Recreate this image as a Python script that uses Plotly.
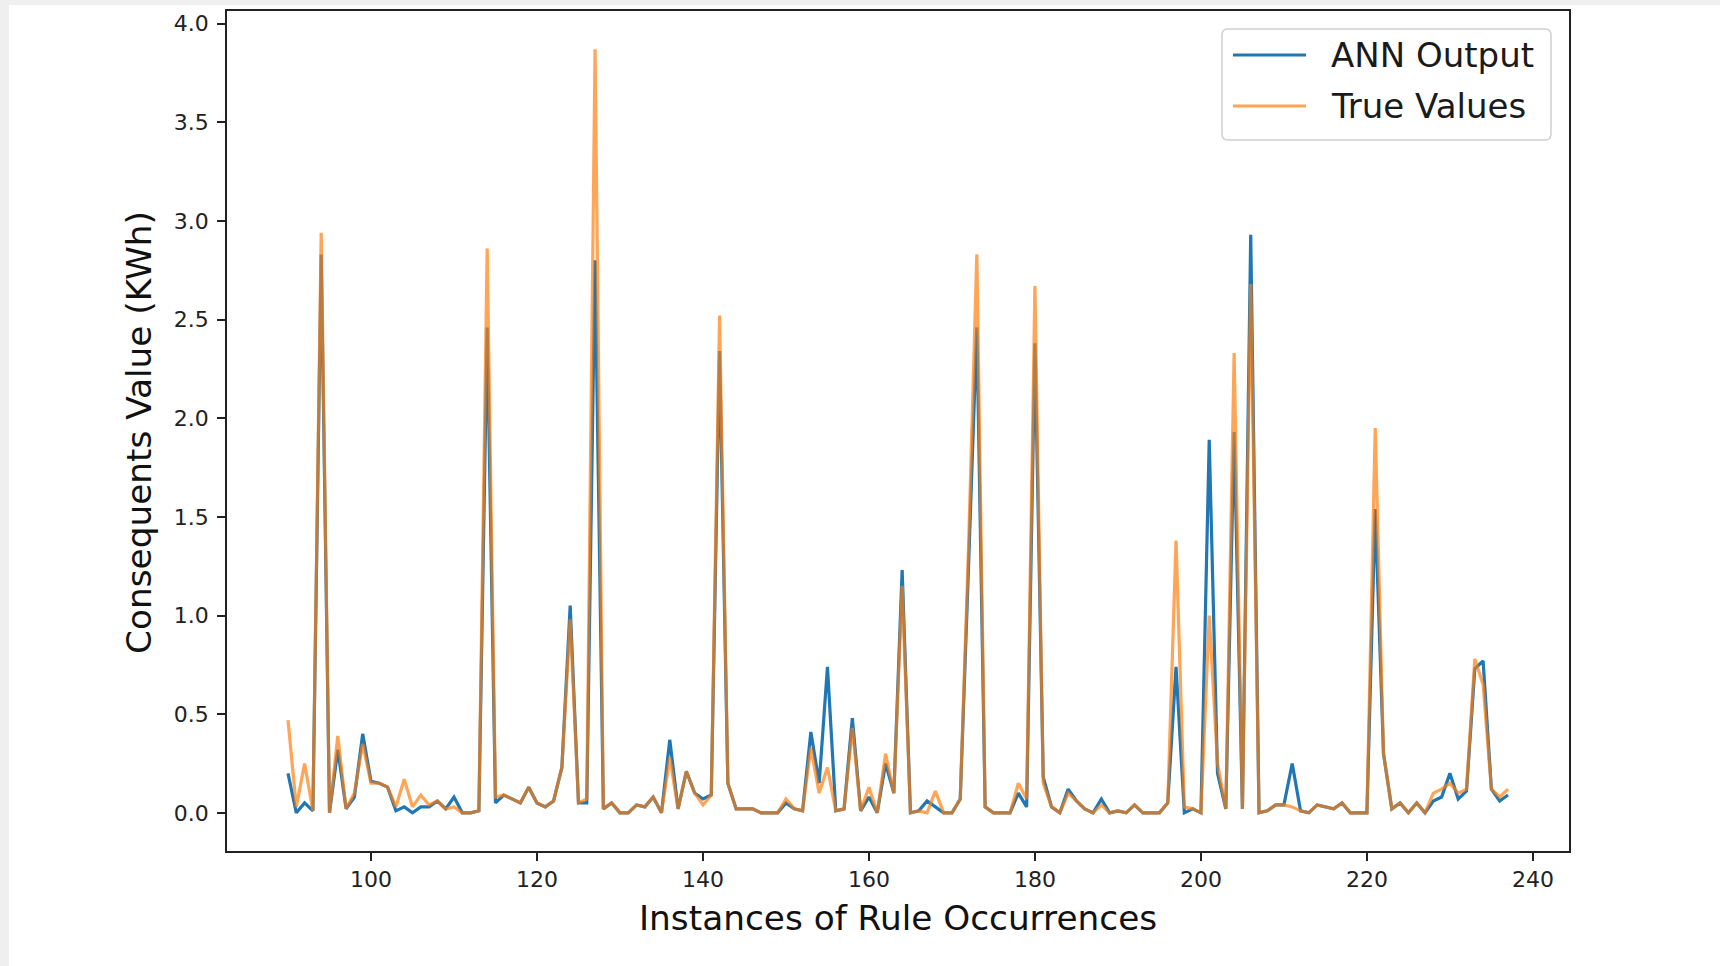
import plotly.graph_objects as go

# ---------------- data ----------------
instances = list(range(90, 238))

ann_output = [
    0.20, 0.00, 0.05, 0.01, 2.83, 0.00, 0.32, 0.02, 0.08, 0.40,   # 90-99
    0.16, 0.15, 0.13, 0.01, 0.03, 0.00, 0.03, 0.03, 0.06, 0.02,   # 100-109
    0.08, 0.00, 0.00, 0.01, 2.46, 0.05, 0.09, 0.07, 0.05, 0.13,   # 110-119
    0.05, 0.03, 0.06, 0.23, 1.05, 0.05, 0.05, 2.80, 0.02, 0.05,   # 120-129
    0.00, 0.00, 0.04, 0.03, 0.08, 0.00, 0.37, 0.02, 0.21, 0.10,   # 130-139
    0.07, 0.09, 2.34, 0.15, 0.02, 0.02, 0.02, 0.00, 0.00, 0.00,   # 140-149
    0.05, 0.02, 0.01, 0.41, 0.15, 0.74, 0.01, 0.02, 0.48, 0.01,   # 150-159
    0.08, 0.00, 0.25, 0.10, 1.23, 0.00, 0.01, 0.06, 0.03, 0.00,   # 160-169
    0.00, 0.07, 1.25, 2.46, 0.03, 0.00, 0.00, 0.00, 0.10, 0.03,   # 170-179
    2.38, 0.18, 0.03, 0.00, 0.12, 0.06, 0.02, 0.00, 0.07, 0.00,   # 180-189
    0.01, 0.00, 0.04, 0.00, 0.00, 0.00, 0.05, 0.74, 0.00, 0.02,   # 190-199
    0.00, 1.89, 0.20, 0.02, 1.93, 0.02, 2.93, 0.00, 0.01, 0.04,   # 200-209
    0.04, 0.25, 0.01, 0.00, 0.04, 0.03, 0.02, 0.05, 0.00, 0.00,   # 210-219
    0.00, 1.54, 0.30, 0.02, 0.05, 0.00, 0.05, 0.00, 0.06, 0.08,   # 220-229
    0.20, 0.07, 0.11, 0.73, 0.77, 0.12, 0.06, 0.09,               # 230-237
]

true_values = [
    0.47, 0.03, 0.25, 0.01, 2.94, 0.00, 0.39, 0.02, 0.10, 0.35,   # 90-99
    0.15, 0.15, 0.13, 0.03, 0.17, 0.03, 0.09, 0.04, 0.06, 0.02,   # 100-109
    0.03, 0.00, 0.00, 0.01, 2.86, 0.08, 0.09, 0.07, 0.05, 0.13,   # 110-119
    0.05, 0.03, 0.06, 0.23, 0.98, 0.05, 0.07, 3.87, 0.02, 0.05,   # 120-129
    0.00, 0.00, 0.04, 0.03, 0.08, 0.00, 0.28, 0.02, 0.21, 0.10,   # 130-139
    0.04, 0.09, 2.52, 0.15, 0.02, 0.02, 0.02, 0.00, 0.00, 0.00,   # 140-149
    0.07, 0.02, 0.01, 0.33, 0.10, 0.23, 0.01, 0.02, 0.43, 0.01,   # 150-159
    0.13, 0.00, 0.30, 0.10, 1.15, 0.00, 0.01, 0.00, 0.11, 0.00,   # 160-169
    0.00, 0.07, 1.35, 2.83, 0.03, 0.00, 0.00, 0.00, 0.15, 0.07,   # 170-179
    2.67, 0.15, 0.03, 0.00, 0.10, 0.06, 0.02, 0.00, 0.04, 0.00,   # 180-189
    0.01, 0.00, 0.04, 0.00, 0.00, 0.00, 0.05, 1.38, 0.03, 0.02,   # 190-199
    0.00, 1.00, 0.25, 0.02, 2.33, 0.02, 2.68, 0.00, 0.01, 0.04,   # 200-209
    0.04, 0.03, 0.01, 0.00, 0.04, 0.03, 0.02, 0.05, 0.00, 0.00,   # 210-219
    0.00, 1.95, 0.30, 0.02, 0.05, 0.00, 0.05, 0.00, 0.10, 0.12,   # 220-229
    0.15, 0.10, 0.12, 0.78, 0.65, 0.12, 0.08, 0.12,               # 230-237
]

x_ticks = [100, 120, 140, 160, 180, 200, 220, 240]
y_ticks = [0.0, 0.5, 1.0, 1.5, 2.0, 2.5, 3.0, 3.5, 4.0]
series_names = ["ANN Output", "True Values"]
x_title = "Instances of Rule Occurrences"
y_title = "Consequents Value (KWh)"

# ---------------- layout geometry ----------------
W, H = 1720, 966
L, R, T, B = 227, 1569, 11, 851
PW, PH = R - L, B - T

def px(x):
    return (x - L) / PW

def py(y):
    return (B - y) / PH

BLUE = "#1f77b4"
ORANGE = "#ff7f0e"
FONT = "DejaVu Sans"

fig = go.Figure()
fig.add_trace(go.Scatter(x=instances, y=ann_output, mode="lines", name=series_names[0],
                         line=dict(color=BLUE, width=3.2), showlegend=False))
fig.add_trace(go.Scatter(x=instances, y=true_values, mode="lines", name=series_names[1],
                         line=dict(color=ORANGE, width=3.2), opacity=0.7, showlegend=False))

xmin, xmax = min(instances), max(instances)
xpad = 0.05 * (xmax - xmin)
ymax = max(max(ann_output), max(true_values))
ypad = 0.05 * ymax

axis_common = dict(showgrid=False, zeroline=False, showline=True, mirror=True,
                   linecolor="#222222", linewidth=1.8, ticks="outside", ticklen=8,
                   tickwidth=1.6, tickcolor="#222222",
                   tickfont=dict(family=FONT, size=22, color="#222222"))

fig.update_xaxes(range=[xmin - xpad, xmax + xpad], tickvals=x_ticks,
                 ticktext=[str(v) for v in x_ticks], **axis_common)
fig.update_yaxes(range=[-ypad, ymax + ypad], tickvals=y_ticks,
                 ticktext=[f"{v:.1f}" for v in y_ticks], ticklabelstandoff=4, **axis_common)

shapes = []
# light grey frame strips of the screenshot
shapes.append(dict(type="rect", xref="paper", yref="paper", x0=px(0), x1=px(9), y0=py(H), y1=py(0),
                   fillcolor="#efefef", line=dict(width=0), layer="below"))
shapes.append(dict(type="rect", xref="paper", yref="paper", x0=px(0), x1=px(W), y0=py(5), y1=py(0),
                   fillcolor="#efefef", line=dict(width=0), layer="below"))

# legend box (rounded)
lx0, lx1, ly0, ly1, r = 1222, 1551, 29, 140, 6
path = (f"M {px(lx0 + r)} {py(ly0)} L {px(lx1 - r)} {py(ly0)} "
        f"Q {px(lx1)} {py(ly0)} {px(lx1)} {py(ly0 + r)} "
        f"L {px(lx1)} {py(ly1 - r)} Q {px(lx1)} {py(ly1)} {px(lx1 - r)} {py(ly1)} "
        f"L {px(lx0 + r)} {py(ly1)} Q {px(lx0)} {py(ly1)} {px(lx0)} {py(ly1 - r)} "
        f"L {px(lx0)} {py(ly0 + r)} Q {px(lx0)} {py(ly0)} {px(lx0 + r)} {py(ly0)} Z")
shapes.append(dict(type="path", xref="paper", yref="paper", path=path,
                   fillcolor="rgba(255,255,255,0.8)", line=dict(color="#d0d0d0", width=1.5)))
legend_rows = [(55, BLUE, 1.0), (106, ORANGE, 0.7)]
for (yy, col, op) in legend_rows:
    shapes.append(dict(type="line", xref="paper", yref="paper", x0=px(1233), x1=px(1306),
                       y0=py(yy), y1=py(yy), line=dict(color=col, width=3.2), opacity=op))

annotations = []
for name, (yy, col, op) in zip(series_names, legend_rows):
    annotations.append(dict(xref="paper", yref="paper", x=px(1329), y=py(yy), text=name,
                            showarrow=False, xanchor="left", yanchor="middle",
                            font=dict(family=FONT, size=34, color="#1a1a1a")))
annotations.append(dict(xref="paper", yref="paper", x=px((L + R) / 2), y=py(918), text=x_title,
                        showarrow=False, xanchor="center", yanchor="middle",
                        font=dict(family=FONT, size=34.3, color="#111111")))
annotations.append(dict(xref="paper", yref="paper", x=px(139), y=py(433), text=y_title,
                        showarrow=False, xanchor="center", yanchor="middle", textangle=-90,
                        font=dict(family=FONT, size=34.3, color="#111111")))

fig.update_layout(width=W, height=H, margin=dict(l=L, r=W - R, t=T, b=H - B, autoexpand=False),
                  paper_bgcolor="white", plot_bgcolor="white", showlegend=False,
                  shapes=shapes, annotations=annotations,
                  font=dict(family=FONT))

fig.write_html("out.html")
